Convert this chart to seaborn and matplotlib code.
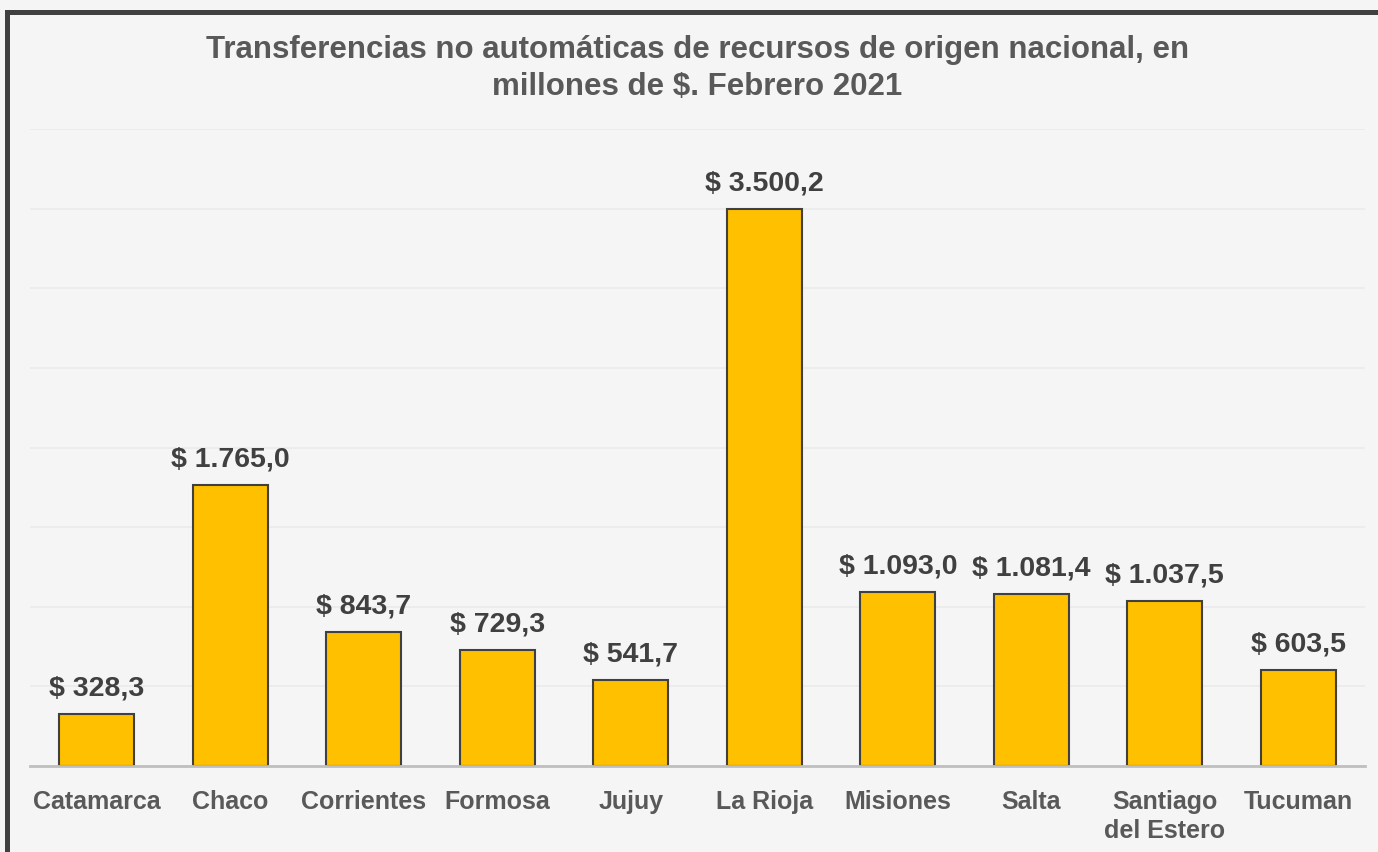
import matplotlib
matplotlib.use("Agg")
import matplotlib.pyplot as plt
from matplotlib.patches import Rectangle
import seaborn as sns
import pandas as pd

provincias = ["Catamarca", "Chaco", "Corrientes", "Formosa", "Jujuy",
              "La Rioja", "Misiones", "Salta", "Santiago\ndel Estero", "Tucuman"]
montos = [328.3, 1765.0, 843.7, 729.3, 541.7, 3500.2, 1093.0, 1081.4, 1037.5, 603.5]

titulo = ("Transferencias no automáticas de recursos de origen nacional, en\n"
          "millones de $. Febrero 2021")

df = pd.DataFrame({"provincia": provincias, "monto": montos})

sns.set_theme(style="white")
plt.rcParams["font.family"] = ["Liberation Sans", "DejaVu Sans"]

bg = "#f5f5f5"
fig = plt.figure(figsize=(13.78, 8.52), dpi=100, facecolor=bg)
ax = fig.add_axes([0.0218, 0.1009, 0.9688, 0.7477])
ax.set_facecolor(bg)

sns.barplot(data=df, x="provincia", y="monto", color="#FFC000",
            saturation=1, width=0.56, edgecolor="#404040", linewidth=1.5, ax=ax)

ax.set_ylim(0, 4000)
ax.set_yticks(range(0, 4001, 500))
ax.yaxis.grid(True, color="#ebebeb", linewidth=1.2)
ax.set_axisbelow(True)
ax.tick_params(axis="y", left=False, labelleft=False)
ax.tick_params(axis="x", length=0, pad=17)
for lbl in ax.get_xticklabels():
    lbl.set_fontsize(18)
    lbl.set_fontweight("bold")
    lbl.set_color("#595959")
    lbl.set_linespacing(1.3)
ax.set_xlabel("")
ax.set_ylabel("")
for s in ["top", "right", "left"]:
    ax.spines[s].set_visible(False)
ax.spines["bottom"].set_color("#bfbfbf")
ax.spines["bottom"].set_linewidth(2)

def fmt(v):
    s = f"{v:,.1f}".replace(",", "X").replace(".", ",").replace("X", ".")
    return f"$ {s}"

for i, v in enumerate(montos):
    ax.annotate(fmt(v), xy=(i, v), xytext=(0, 9), textcoords="offset points",
                ha="center", va="bottom", fontsize=20.5, fontweight="bold",
                color="#404040")

fig.text(0.506, 0.959, titulo, ha="center", va="top", fontsize=22.5,
         fontweight="bold", color="#595959", linespacing=1.3)

# dark frame around the chart (top and left visible)
fig.patches.append(Rectangle((0.0054, -0.2), 1.2, 0.986 + 0.2,
                             transform=fig.transFigure, fill=False,
                             edgecolor="#404040", linewidth=3.6))

fig.savefig("out.png", dpi=100, facecolor=bg)
